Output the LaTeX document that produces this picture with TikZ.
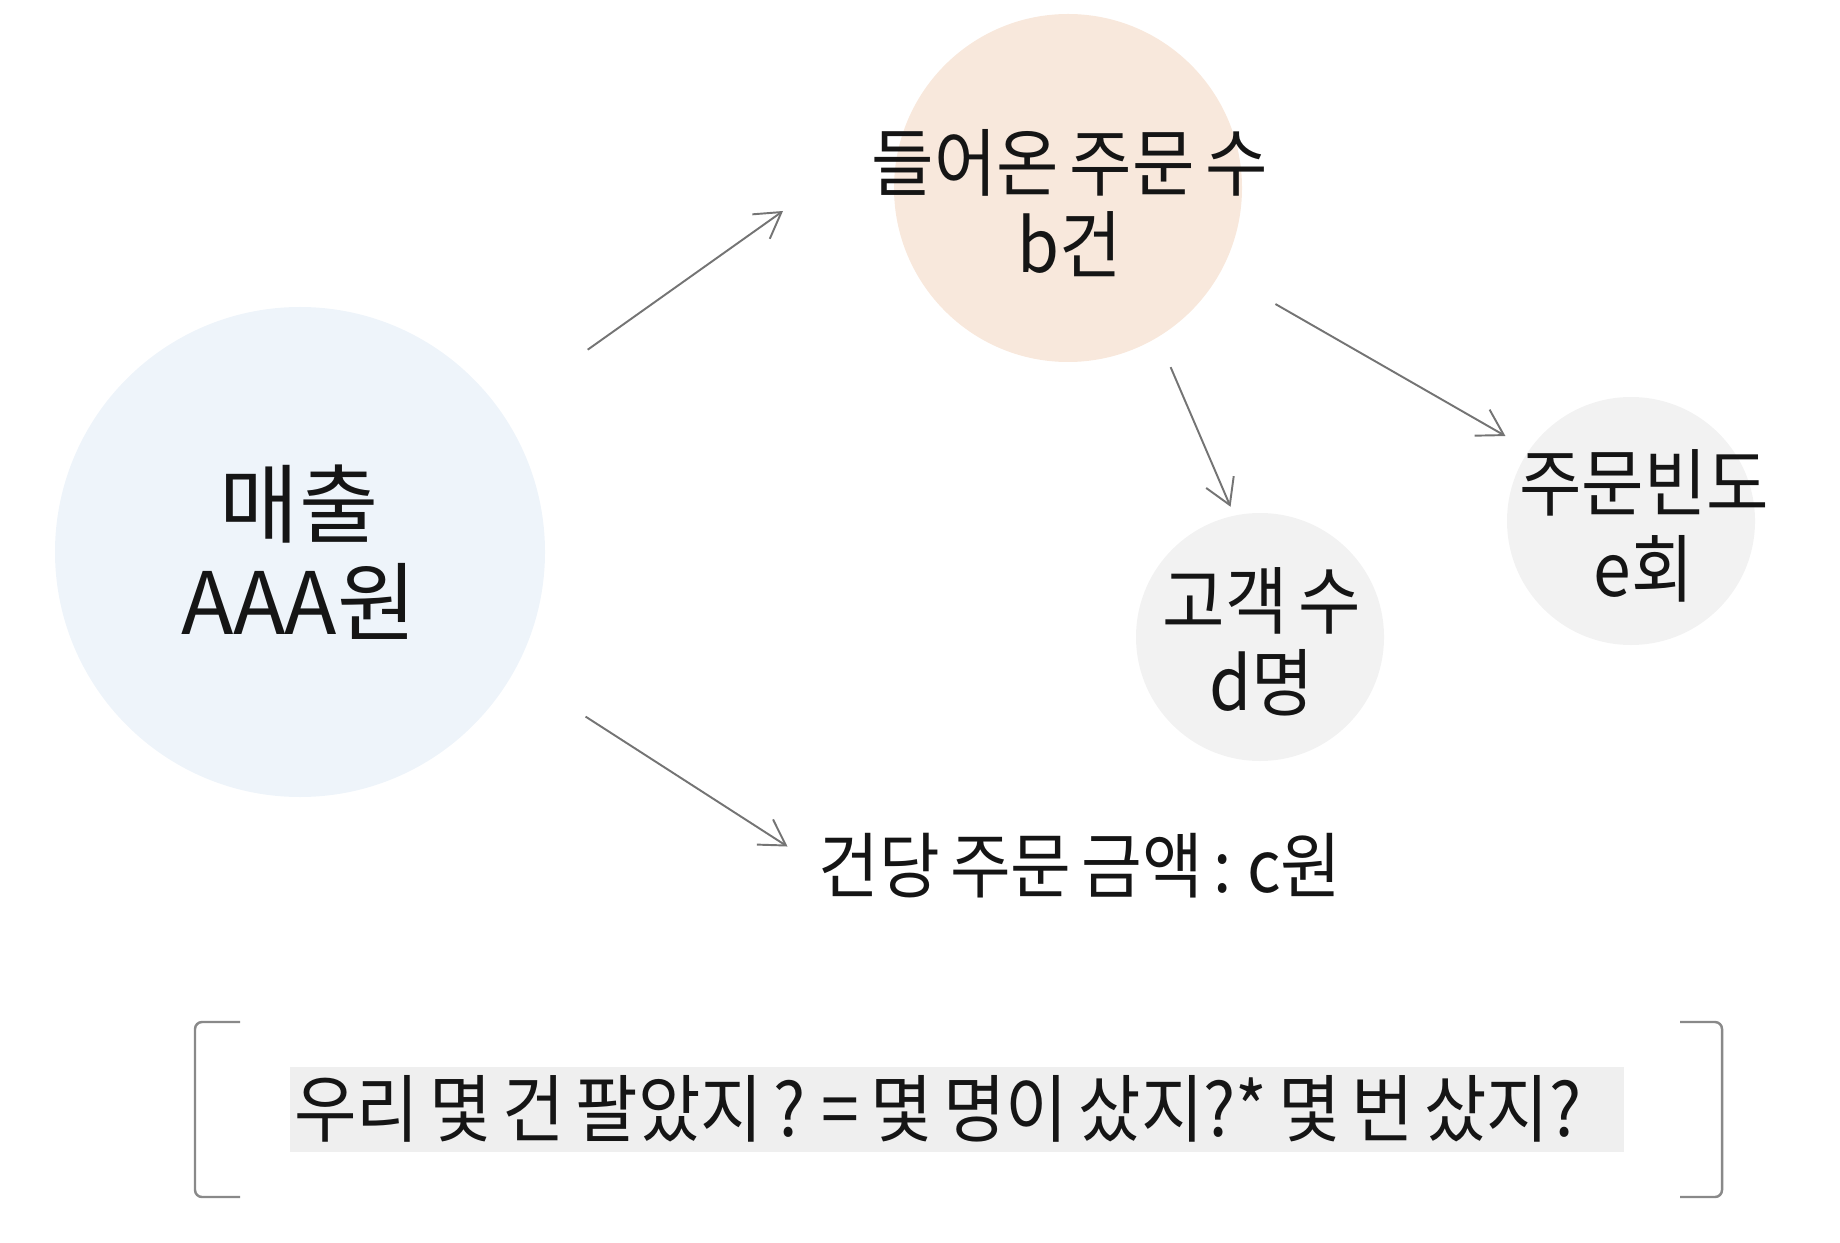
\documentclass[tikz,border=0pt]{standalone}
\usepackage{fontspec}
\setmainfont[FakeStretch=0.92,WordSpace=0.7]{Noto Sans CJK KR}
\newfontfamily\widekr[WordSpace=0.7]{Noto Sans CJK KR}
\usetikzlibrary{positioning,arrows.meta,calc}
\definecolor{salesbg}{HTML}{EEF4FA}
\definecolor{orderbg}{HTML}{F8E8DC}
\definecolor{subbg}{HTML}{F2F2F2}
\definecolor{qbg}{HTML}{EFEFEF}
\definecolor{arrgray}{HTML}{747474}
\definecolor{ink}{HTML}{151515}
\newcommand{\kfont}[2]{\fontsize{#1}{#2}\selectfont}

\begin{document}
\begin{tikzpicture}[
  >={Straight Barb[length=2.5mm,width=3mm]},
  bub/.style={circle,inner sep=0pt},
  txt/.style={align=center,text=ink,inner sep=0pt},
  arr/.style={->,draw=arrgray,line width=0.55pt},
  brk/.style={draw=arrgray!85,line width=0.7pt,rounded corners=2pt}
]
\useasboundingbox (0,0) rectangle (18.4,-12.42);
% sales
\node[bub,fill=salesbg,minimum size=4.9cm] (sales) at (3.00,-5.52) {};
\node[txt,font=\widekr\kfont{24.5}{28}] (salesT) at (2.99,-5.52) {매출\\AAA원};
% orders and their parts
\node[bub,fill=orderbg,minimum size=3.48cm] (order) at (10.68,-1.88) {};
\node[txt,font=\kfont{21}{23.3}] (orderT) at (10.70,-2.03) {들어온 주문 수\\b건};
\node[bub,fill=subbg,minimum size=2.48cm] (cust) at (12.60,-6.37) {};
\node[txt,font=\kfont{21}{23.3}] (custT) at (12.62,-6.42) {고객 수\\d명};
\node[bub,fill=subbg,minimum size=2.48cm] (freq) at (16.31,-5.21) {};
\node[txt,font=\kfont{21}{24.4}] (freqT) at (16.44,-5.26) {주문빈도\\e회};
% amount per order
\node[txt,font=\kfont{20.4}{23}] (cost) at (10.80,-8.66) {건당 주문 금액 : c원};
% arrows
\coordinate (tipA) at (7.83,-2.11);
\draw[arr,shorten <=1.06cm] (sales.35) -- (tipA);
\draw[arr,shorten <=0.84cm,shorten >=0.36cm] (sales.-29) -- (cost.west);
\draw[arr,shorten <=0.32cm,shorten >=0.09cm] (order.-59) -- (cust.102);
\draw[arr,shorten <=0.63cm,shorten >=0.27cm] (order.-29) -- (freq.145);
% question
\node[fill=qbg,minimum width=13.34cm,minimum height=0.85cm,inner sep=0pt] (quest) at (9.57,-11.09) {};
\node[txt,anchor=west,xshift=0.4mm,font=\kfont{21}{23}] (questT) at (quest.west) {우리 몇 건 팔았지 ? = 몇 명이 샀지?* 몇 번 샀지?};
\draw[brk] (2.40,-10.22) -- (1.95,-10.22) -- (1.95,-11.97) -- (2.40,-11.97);
\draw[brk] (16.80,-10.22) -- (17.22,-10.22) -- (17.22,-11.97) -- (16.80,-11.97);
\end{tikzpicture}
\end{document}
